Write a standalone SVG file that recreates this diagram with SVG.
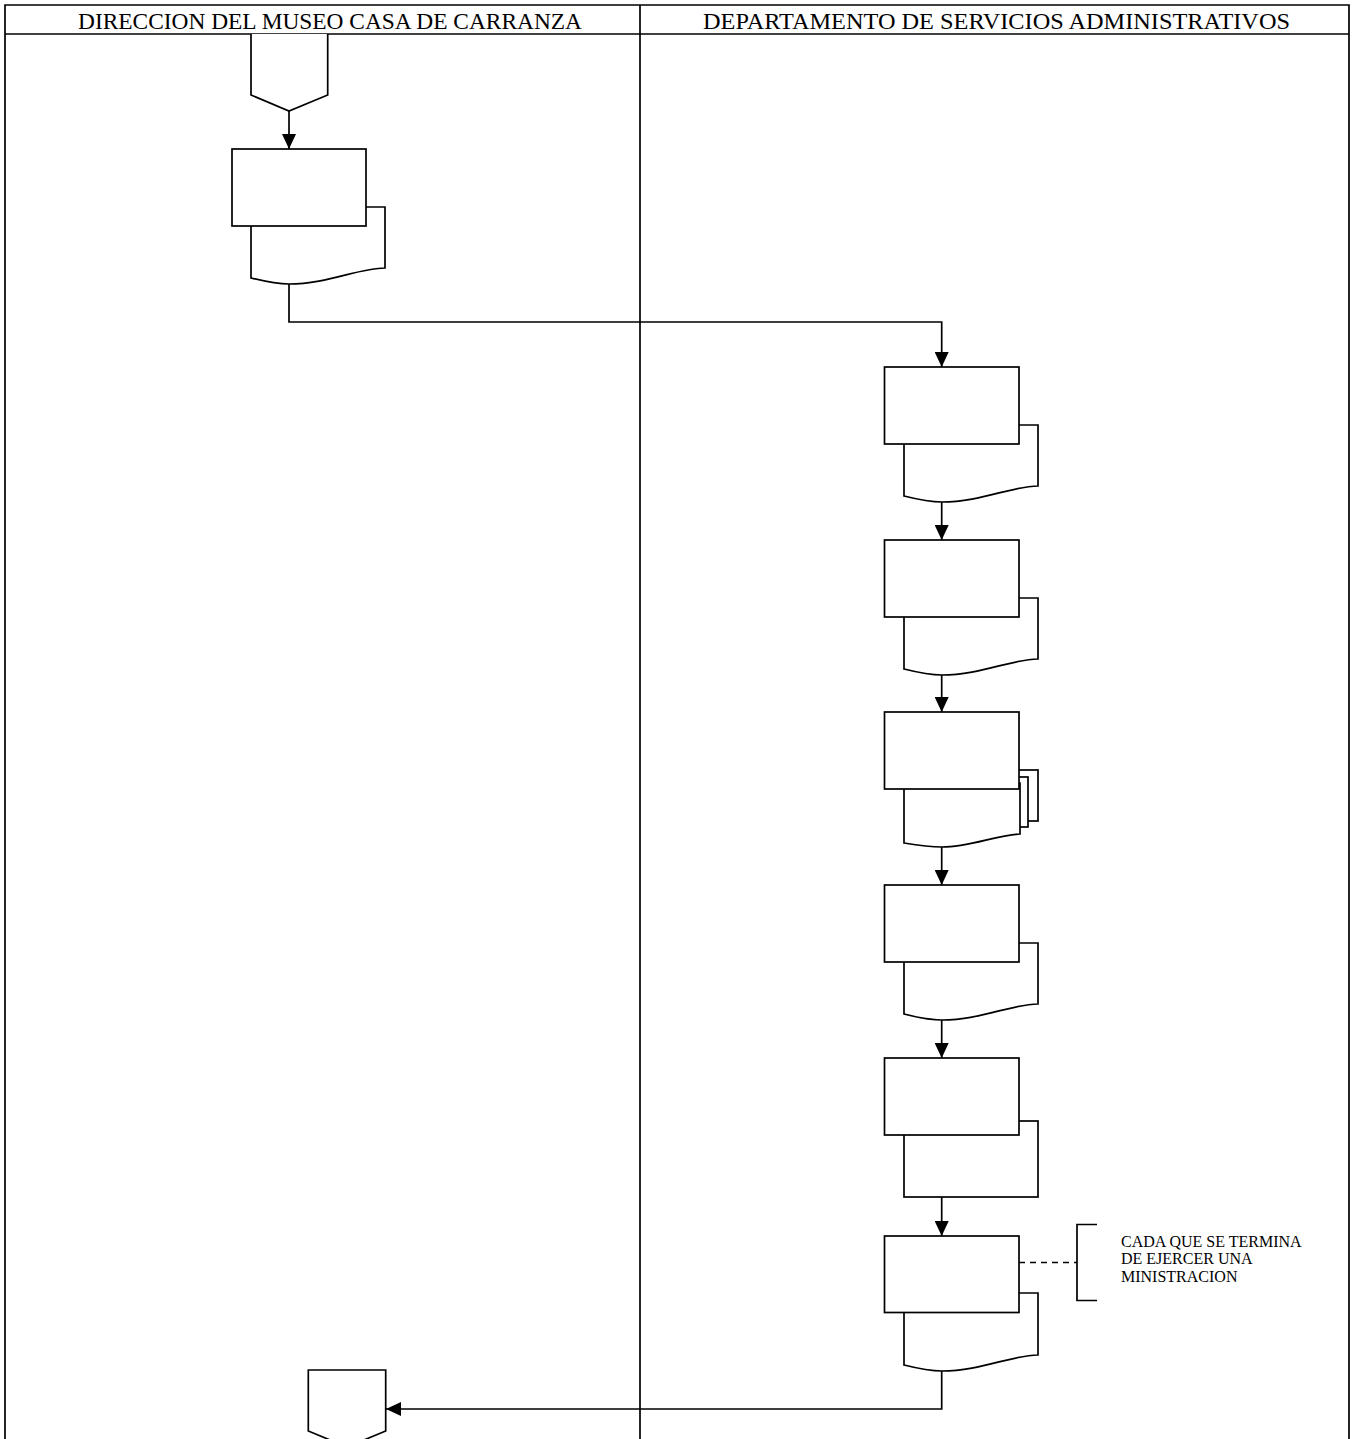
<svg xmlns="http://www.w3.org/2000/svg" width="1353" height="1439" viewBox="0 0 1353 1439">
<style>
.ln{fill:none;stroke:#000;stroke-width:1.7}
.sh{fill:#fff;stroke:#000;stroke-width:1.7}
.hd{font-family:"Liberation Serif","Times New Roman",serif;font-size:24px;fill:#000}
.nt{font-family:"Liberation Serif","Times New Roman",serif;font-size:16px;fill:#000}
</style>
<defs>
<marker id="ah" viewBox="0 0 15 14" refX="15" refY="7" markerWidth="15" markerHeight="14" markerUnits="userSpaceOnUse" orient="auto">
<path d="M0,0 L15,7 L0,14 Z" fill="#000"/>
</marker>
</defs>
<rect width="1353" height="1439" fill="#fff"/>
<g id="frame">
<path class="ln" d="M5,1445 V5 H1349 V1445"/>
<path class="ln" d="M5,34 H1349"/>
<path class="ln" d="M640,5 V1445"/>
<text class="hd" x="78" y="29" textLength="504" lengthAdjust="spacingAndGlyphs">DIRECCION DEL MUSEO CASA DE CARRANZA</text>
<text class="hd" x="703" y="29" textLength="587" lengthAdjust="spacingAndGlyphs">DEPARTAMENTO DE SERVICIOS ADMINISTRATIVOS</text>
</g>
<g id="connectors">
<path class="ln" d="M289,111 V149" marker-end="url(#ah)"/>
<path class="ln" d="M289,284 V322 H941.7 V367" marker-end="url(#ah)"/>
<path class="ln" d="M941.7,502 V540" marker-end="url(#ah)"/>
<path class="ln" d="M941.7,675 V712" marker-end="url(#ah)"/>
<path class="ln" d="M941.7,847 V885" marker-end="url(#ah)"/>
<path class="ln" d="M941.7,1020 V1058" marker-end="url(#ah)"/>
<path class="ln" d="M941.7,1197 V1236" marker-end="url(#ah)"/>
<path class="ln" d="M941.7,1371 V1409 H386" marker-end="url(#ah)"/>
<path class="ln" d="M1019,1262.5 H1077" stroke-dasharray="6,5"/>
</g>
<g id="start">
<path class="sh" d="M251,34 V95 L289,111 L327.7,95 V34"/>
</g>
<g id="n1">
<path class="sh" d="M251,207 H385 V268 C359,268 327,284 289,284 C277,284 263,281 251,278 Z"/>
<rect class="sh" x="232" y="149" width="134" height="77"/>
</g>
<g id="n2">
<path class="sh" d="M904,425 H1038 V486 C1012,486 980,502 942,502 C930,502 916,499 904,496 Z"/>
<rect class="sh" x="884.5" y="367" width="134.5" height="77"/>
</g>
<g id="n3">
<path class="sh" d="M904,598 H1038 V659 C1012,659 980,675 942,675 C930,675 916,672 904,669 Z"/>
<rect class="sh" x="884.5" y="540" width="134.5" height="77"/>
</g>
<g id="n4">
<rect class="sh" x="922" y="770" width="116" height="51"/>
<rect class="sh" x="913" y="777" width="115" height="50"/>
<path class="sh" d="M904,783 H1020 V834 C996,835 970,847 942,847 C930,847 916,845 904,843 Z"/>
<rect class="sh" x="884.5" y="712" width="134.5" height="77"/>
</g>
<g id="n5">
<path class="sh" d="M904,943 H1038 V1004 C1012,1004 980,1020 942,1020 C930,1020 916,1017 904,1014 Z"/>
<rect class="sh" x="884.5" y="885" width="134.5" height="77"/>
</g>
<g id="n6">
<rect class="sh" x="904" y="1121" width="134" height="76"/>
<rect class="sh" x="884.5" y="1058" width="134.5" height="77"/>
</g>
<g id="n7">
<path class="sh" d="M904,1293 H1038 V1355 C1012,1355 980,1371 942,1371 C930,1371 916,1368 904,1365 Z"/>
<rect class="sh" x="884.5" y="1236" width="134.5" height="76.5"/>
</g>
<g id="note">
<path class="ln" d="M1097,1224.5 H1077 V1300.5 H1097"/>
<text class="nt" x="1121" y="1246.5">CADA QUE SE TERMINA</text>
<text class="nt" x="1121" y="1264">DE EJERCER UNA</text>
<text class="nt" x="1121" y="1281.5">MINISTRACION</text>
</g>
<g id="end">
<path class="sh" d="M308.3,1370 V1431 L347,1447 L385.7,1431 V1370 Z"/>
</g>
</svg>
